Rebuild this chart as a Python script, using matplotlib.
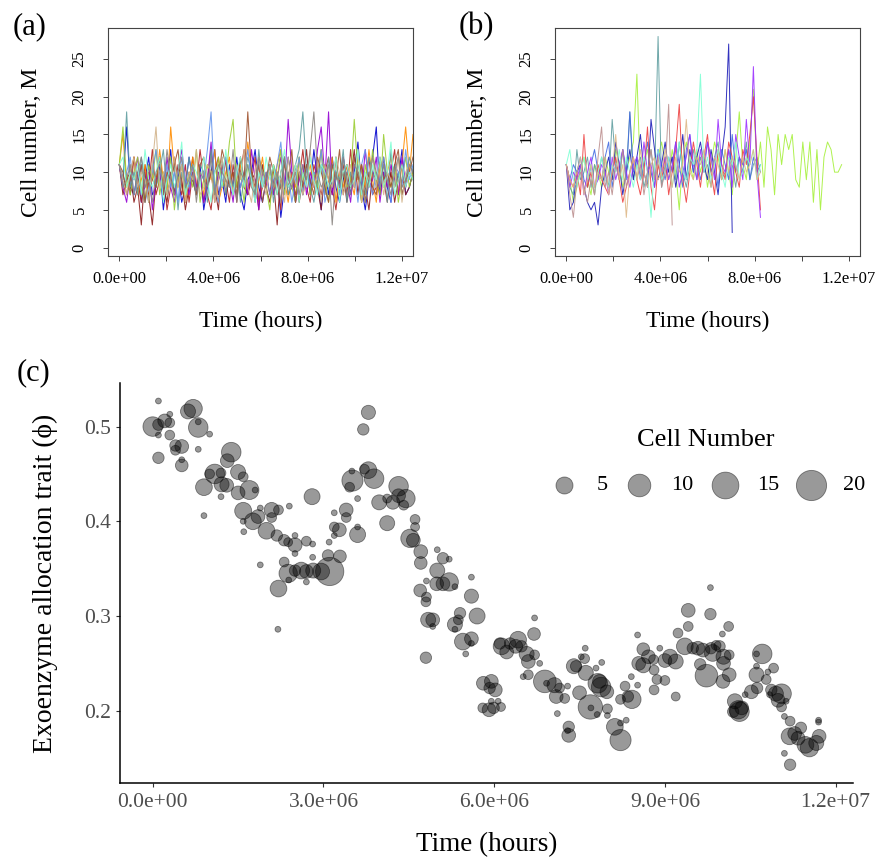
import numpy as np
import matplotlib
matplotlib.use("Agg")
import matplotlib.pyplot as plt

plt.rcParams['font.family'] = ['Liberation Serif', 'DejaVu Serif']

# ---------------- data: panel (a) ----------------
a_series = [
    [11,9,16,8,7,10,6,9,12,7, 8,11,5,9,13,7,10,6,8,12, 9,7,11,5,8,10,13,7,9,6, 11,8,12,7,5,9,10,13,8,6, 9,11,7,10,4,8,12,9,6,10, 7,11,8,13,9,5,10,7,12,8, 6,9,11,7,10,14,8,5,9,12, 16,7,10,8,6,11,9,13,7,8, 10],
    [11,8,10,7,12,9,6,11,8,13, 7,9,10,5,8,12,9,7,11,6, 10,8,13,9,7,5,10,12,8,9, 6,11,8,10,13,7,9,12,6,8, 10,7,11,9,5,12,8,10,7,9, 13,8,6,11,9,7,10,12,8,5, 9,11,7,13,8,10,6,9,12,7, 8,11,9,6,10,13,7,9,8,11, 10],
    [11,7,9,10,6,8,3,10,7,3, 9,12,8,6,10,7,11,9,5,8, 12,7,10,6,9,13,8,5,11,7, 9,10,6,12,8,7,10,9,5,11, 8,6,9,3,10,12,7,8,11,6, 9,13,7,10,8,5,11,9,7,12, 8,10,6,9,13,7,11,8,5,10, 9,7,12,8,10,6,9,11,7,8, 10],
    [11,15,8,10,12,7,9,11,6,10, 8,13,9,7,16,10,8,11,6,9, 12,8,10,7,11,9,13,6,8,10, 12,7,9,11,8,14,10,6,9,12, 8,10,7,11,13,9,6,10,8,12, 7,9,11,8,10,13,7,9,12,6, 10,8,11,9,7,12,10,8,13,9, 6,11,8,10,12,9,7,11,16,10, 15],
    [11,8,6,10,9,12,7,8,11,5, 9,10,7,12,8,6,10,13,9,7, 11,8,10,6,9,14,7,10,8,12, 9,6,11,8,10,7,13,9,5,10, 8,11,7,9,12,8,17,10,6,9, 11,7,10,8,13,16,9,18,7,10, 8,12,9,6,11,10,7,13,8,9, 12,6,10,8,11,9,7,12,8,10, 9],
    [11,16,9,7,10,12,8,6,11,9, 13,7,10,8,12,5,9,11,7,10, 8,13,6,9,11,10,7,12,8,9, 14,17,8,10,6,11,9,7,12,10, 8,5,11,9,13,7,10,8,6,12, 9,11,7,10,8,13,9,6,11,10, 7,12,8,9,17,10,6,11,8,13, 9,7,15,10,8,11,6,9,12,8, 10],
    [11,9,18,8,10,7,12,9,6,11, 8,10,13,7,9,11,5,10,8,12, 9,7,11,10,6,13,8,9,12,7, 10,8,11,6,9,12,10,7,13,8, 9,11,6,10,8,12,7,9,11,13, 18,10,8,6,9,11,7,12,8,10, 9,13,6,10,8,11,9,7,12,10, 8,9,11,6,13,8,10,7,9,12, 10],
    [11,8,10,12,7,9,11,6,8,10, 13,9,7,11,8,10,6,12,9,8, 11,7,10,9,13,18,8,6,10,12, 9,7,11,8,10,13,9,6,12,8, 10,7,9,11,14,8,10,6,9,12, 7,11,8,10,9,13,6,8,11,10, 7,12,9,8,10,6,11,13,9,7, 10,8,12,9,6,11,10,8,13,9, 11],
    [11,10,7,9,12,8,11,6,10,9, 8,12,7,10,9,11,13,8,6,10, 9,7,11,12,8,10,6,9,13,11, 8,10,7,12,9,18,10,8,11,6, 9,12,10,7,8,11,9,13,6,10, 8,11,9,7,12,10,8,6,11,9, 13,7,10,8,12,9,11,6,10,8, 7,12,9,10,8,11,13,7,9,10, 12],
    [11,9,7,10,12,8,10,9,6,11, 16,8,10,7,9,12,8,11,6,10, 9,13,7,8,11,10,6,9,12,8, 10,7,11,9,13,8,6,10,12,9, 7,11,8,10,9,6,12,8,11,10, 7,9,13,8,10,6,11,9,8,12, 10,7,9,11,8,13,6,10,9,12, 8,11,7,10,9,8,12,6,10,11, 9],
    [11,12,8,10,9,11,7,13,9,8, 10,12,6,9,11,8,10,14,7,9, 11,10,8,12,9,6,10,11,8,13, 9,7,10,12,8,11,9,6,10,8, 12,9,11,7,10,13,8,9,11,6, 10,8,12,9,7,11,10,8,9,12, 6,10,11,8,9,13,7,10,8,11, 9,12,8,10,14,7,9,11,8,10, 9],
    [11,8,9,11,7,10,12,8,9,6, 10,11,8,13,9,7,10,12,8,9, 11,6,10,9,8,12,7,11,10,9, 8,13,6,10,9,11,8,7,12,10, 9,11,8,10,6,12,9,8,10,7, 11,9,13,18,10,8,9,11,3,10, 8,12,9,7,11,10,8,6,9,12, 10,8,11,9,7,10,12,8,9,11, 10],
]
a_colors = ["#0000CD", "#B22222", "#8B1A1A", "#FF8C00", "#9400D3", "#9ACD32",
            "#5F9EA0", "#6495ED", "#A0522D", "#D2B48C", "#7FFFD4", "#8B8682"]
a_end_time = 12.48e6

# ---------------- data: panel (b) ----------------
b_step = 0.15e6
b_series = [
    [11,9,6,8,10,12,9,7,11,10, 8,12,10,9,13,11,8,10,12,14, 23,9,11,13,10,8,12,14,11,9,
     13,10,5,12,14,11,9,13,10,12, 8,11,14,12,9,13,10,7,12,18, 11,9,14,21,10,
     14,8,16,13,7,15,11,15,13,15,9,8,14,9,14,6,13,5,12,14,13,10,10,11],
    [11,8,7,13,9,10,12,8,11,9, 12,10,8,17,11,9,13,10,18,9, 11,12,8,10,13,9,28,8,11,10,
     12,9,14,10,8,11,13,9,12,10, 11,8,12,14,9,10,13,11,8,12, 10,14,9,11,12,10],
    [11,5,6,10,11,8,6,5,6,3, 8,10,12,9,14,11,7,10,13,9, 12,15,10,8,17,13,9,11,14,10,
     12,8,11,15,9,13,10,12,14,11, 9,13,10,7,12,16,27,2],
    [11,9,11,10,12,9,8,11,13,10, 9,12,14,8,11,10,13,9,18,10, 12,9,11,14,10,8,13,11,9,12,
     10,14,11,8,13,15,10,12,9,11, 14,10,12,8,13,11,9,15,10,12, 11,13,9,12,10,11],
    [11,9,8,10,7,15,8,10,7,11, 9,8,7,10,12,9,6,8,10,12, 9,7,10,16,8,5,11,9,12,7,
     10,13,19,9,6,10,14,11,8,12, 15,10,7,13,11,9,14,12,10,8, 13,11,15,20,12,5],
    [11,8,10,9,11,7,10,12,8,9, 11,10,7,12,9,11,13,10,8,11, 12,9,14,10,11,8,13,10,12,9,
     11,14,8,10,12,15,11,9,13,10, 14,12,9,17,11,10,13,8,15,12, 9,17,11,24,10,4],
    [11,13,9,8,10,12,9,11,7,10, 12,9,8,11,10,13,9,12,10,8, 11,9,12,10,4,11,13,9,10,12,
     8,11,14,10,9,12,11,13,23,10, 12,9,11,13,10,8,12,11,14,9, 10,12,11,13,9,11],
    [11,7,4,9,10,8,6,9,7,12, 16,8,10,7,11,9,13,8,10,12, 9,11,7,10,13,9,12,8,10,19,3],
    [11,9,8,10,12,7,9,11,8,10, 9,12,7,10,15,9,11,4,10,12, 9,13,10,8,11,12,9,10,13,11,
     8,12,10,11,17,10,9,12,11,13, 10,8,12,11,9,13,10,12,11,9, 12,10,11,13,9,10],
]
b_colors = ["#A6F03C", "#5F9EA0", "#1C1CB8", "#4169E1", "#EE4040", "#9B30FF",
            "#7FFFD4", "#BC8F8F", "#DEB887"]

xy_ticks = [0, 2e6, 4e6, 6e6, 8e6, 10e6, 12e6]
xy_ticklabels = ["0.0e+00", "", "4.0e+06", "", "8.0e+06", "", "1.2e+07"]
ab_yticks = [0, 5, 10, 15, 20, 25]

# ---------------- data: panel (c) ----------------
c_time_e6 = [
 0.10,0.00,0.10,0.21,0.30,0.30,0.10,0.30,0.10,0.40,0.51,0.40,0.51,0.51,0.62,0.71,0.80,0.80,1.00,0.80,
 1.38,1.31,1.09,1.00,1.20,1.50,1.59,0.90,1.21,1.30,1.50,1.70,1.80,1.20,0.90,1.59,1.89,1.85,2.09,2.21,
 2.09,1.76,2.00,1.59,1.60,2.18,2.31,2.38,2.50,2.40,2.50,2.70,2.50,1.89,2.31,2.38,2.50,2.61,2.21,2.39,
 2.20,2.70,
 2.80,2.81,2.81,2.70,2.82,2.96,3.11,3.08,3.29,3.10,3.19,3.19,3.28,3.19,3.40,3.40,3.60,3.60,3.79,3.70,
 3.51,3.46,3.60,3.50,3.72,3.79,3.89,3.98,4.12,4.22,4.32,4.32,4.45,4.41,4.12,4.61,4.61,4.52,4.58,4.71,
 4.71,5.00,5.10,5.21,5.00,4.81,4.99,5.10,5.21,5.31,4.70,4.81,4.80,5.60,5.60,5.70,4.84,4.92,4.92,5.40,
 5.31,5.37,5.31,5.45,5.60,5.60,5.50,4.80,5.81,5.92,5.80,5.91,5.95,
 5.95,6.02,5.99,6.12,6.07,6.71,6.70,6.13,6.10,6.22,6.28,6.42,6.38,6.48,6.57,6.60,6.71,6.80,6.51,6.60,
 6.89,7.06,6.92,7.15,7.09,7.24,7.29,7.11,7.31,7.31,7.29,7.40,7.44,7.59,7.60,7.53,7.61,7.50,7.69,7.70,
 7.81,7.79,7.89,7.82,7.88,7.85,7.98,7.99,7.99,8.12,8.22,8.22,8.32,8.30,8.22,8.41,8.42,8.35,8.52,8.52,
 8.62,8.54,8.71,8.80,8.62,8.91,8.81,8.86,9.00,8.81,9.00,9.09,9.19,9.19,9.23,
 9.41,9.41,9.80,9.80,10.12,10.01,9.35,9.49,9.58,9.67,9.81,9.90,9.96,9.84,10.03,10.13,9.62,9.73,10.03,10.13,
 10.02,10.23,10.29,10.31,10.20,10.35,10.41,10.52,10.62,10.61,10.71,10.61,10.61,10.81,10.91,10.78,10.87,10.95,11.05,10.84,
 10.99,11.13,11.05,11.10,11.20,11.19,11.28,11.39,11.34,11.47,11.54,11.66,11.71,11.70,11.70,11.10,11.20,
]
c_trait = [
 0.527,0.500,0.502,0.506,0.504,0.513,0.491,0.491,0.467,0.480,0.479,0.475,0.465,0.459,0.516,0.519,0.499,0.505,0.492,0.476,
 0.473,0.464,0.450,0.450,0.451,0.452,0.447,0.436,0.439,0.438,0.430,0.433,0.433,0.426,0.406,0.411,0.414,0.405,0.412,0.412,
 0.404,0.400,0.390,0.400,0.389,0.385,0.380,0.378,0.375,0.416,0.385,0.379,0.366,0.354,0.357,0.345,0.348,0.348,0.329,0.338,
 0.286,0.347,
 0.426,0.376,0.362,0.336,0.348,0.347,0.347,0.364,0.363,0.378,0.385,0.394,0.391,0.409,0.412,0.404,0.394,0.386,0.515,0.497,
 0.443,0.436,0.424,0.453,0.455,0.454,0.445,0.420,0.424,0.420,0.437,0.427,0.424,0.417,0.398,0.402,0.394,0.382,0.380,0.368,
 0.356,0.370,0.361,0.360,0.348,0.337,0.334,0.334,0.336,0.331,0.327,0.320,0.315,0.341,0.321,0.300,0.296,0.296,0.289,0.303,
 0.291,0.296,0.286,0.273,0.276,0.271,0.260,0.256,0.229,0.224,0.203,0.201,0.210,
 0.231,0.222,0.203,0.204,0.210,0.298,0.281,0.268,0.271,0.262,0.271,0.275,0.268,0.268,0.260,0.252,0.259,0.250,0.236,0.238,
 0.231,0.227,0.229,0.224,0.215,0.213,0.226,0.197,0.183,0.174,0.179,0.247,0.247,0.255,0.266,0.257,0.240,0.219,0.204,0.203,
 0.196,0.245,0.251,0.229,0.225,0.231,0.220,0.202,0.195,0.183,0.169,0.187,0.190,0.226,0.212,0.236,0.212,0.215,0.227,0.280,
 0.265,0.250,0.257,0.254,0.248,0.266,0.243,0.233,0.232,0.222,0.253,0.257,0.252,0.215,0.282,
 0.306,0.289,0.330,0.302,0.289,0.281,0.268,0.266,0.266,0.264,0.266,0.269,0.268,0.261,0.257,0.259,0.249,0.237,0.250,0.238,
 0.231,0.210,0.201,0.199,0.199,0.203,0.217,0.220,0.224,0.238,0.260,0.260,0.247,0.241,0.245,0.233,0.222,0.218,0.218,0.217,
 0.211,0.210,0.204,0.194,0.189,0.173,0.176,0.182,0.171,0.164,0.161,0.166,0.173,0.190,0.188,0.155,0.143,
]
c_cells = [
 1,7,2,3,1.5,1,1,1.5,2,2,3,1.5,1,2.5,3.7,6,7,1,1,1,
 7,3,7,1.5,1.5,3.7,1.5,4.8,3.7,3,3,6.5,1,1,1,5,1,3,3.7,1.5,
 1.5,4.8,4.8,1,1,2,2,1.3,3.2,1,1,1.5,1,1,1.5,6,2,4.8,4.8,1,
 1,3,
 4.3,1,1,1,3.7,4.8,17,2,2.5,1,1,1.5,3,1,3,1.5,1,4.3,3.2,2,
 8.5,1.5,1,1,1.5,4.8,7,3.7,1.3,3,7,3,6,1.5,3.7,1.5,1.3,6,3,3,
 2.5,1,2,1,3.7,1,3,3,6,1,2.5,1.5,1.5,1,3.2,4.3,3.7,3,1,2,
 3.7,1.5,1,4.8,3,1,1,2,3,2,1.5,3,1,
 3,3,2,1.3,1,1,2.5,4.8,2,3,2,4.8,3,2,3.7,3,1.5,1,1,1.5,
 10,3.7,1,1.5,3,1.5,1,1,2,3,1,3.7,2,1.5,1,1,3.7,3,12,1,
 1,1,1,7,7,3,3,1.5,1,4.8,8.5,1,1,1.5,1.5,1,6,2,1,1,
 2.5,3,3,1.5,3.7,1,1.5,1.5,1.5,1.5,3,3.7,3.7,1.3,1.5,
 3,1.5,1,2,1.5,1,4.8,2,3,3,2,1.5,2,4.8,3.7,1.5,2,10,3,3,
 3,3.7,6,7,2,3,1,3,2,3.7,7,1,1,1,1.5,1.5,2,3.7,7,1,
 3,1,1.5,1,1.5,4.8,3,2,3,4.8,6,3.7,3,1,1,1,2,
]
c_legend_values = [5, 10, 15, 20]
c_xticks = [0, 3e6, 6e6, 9e6, 12e6]
c_xticklabels = ["0.0e+00", "3.0e+06", "6.0e+06", "9.0e+06", "1.2e+07"]
c_yticks = [0.2, 0.3, 0.4, 0.5]
c_yticklabels = ["0.2", "0.3", "0.4", "0.5"]

# ---------------- figure ----------------
W, H = 877, 860
fig = plt.figure(figsize=(W / 100, H / 100), dpi=100)


def fbox(l, t, r, b):
    return [l / W, 1 - b / H, (r - l) / W, (b - t) / H]


def style_r_axes(ax):
    for s in ax.spines.values():
        s.set_color("#444444")
        s.set_linewidth(0.8)
    ax.set_xlim(-0.48e6, 12.48e6)
    ax.set_ylim(-1.12, 29.12)
    ax.set_xticks(xy_ticks)
    ax.set_xticklabels(xy_ticklabels)
    ax.set_yticks(ab_yticks)
    ax.set_yticklabels([str(v) for v in ab_yticks], rotation=90, va="center")
    ax.tick_params(axis="both", direction="out", length=3.6, width=0.7,
                   color="#444444", labelsize=12)
    ax.tick_params(axis="x", pad=7)
    ax.tick_params(axis="y", pad=11)
    ax.set_xlabel("Time (hours)", fontsize=17, va="center")
    ax.set_ylabel("Cell number, M", fontsize=17, va="center")
    ax.xaxis.set_label_coords(0.5, -0.285)
    ax.yaxis.set_label_coords(-0.25, 0.5)


# panel (a)
ax_a = fig.add_axes(fbox(108, 28, 413, 256))
for vals, col in zip(a_series, a_colors):
    t = np.linspace(0, a_end_time, len(vals))
    ax_a.plot(t, vals, color=col, lw=0.75, alpha=0.9)
style_r_axes(ax_a)
fig.text(12.7 / W, 1 - 27 / H, "(a)", fontsize=22, ha="left", va="center")

# panel (b)
ax_b = fig.add_axes(fbox(555, 28, 860, 256))
for vals, col in zip(b_series, b_colors):
    t = b_step * np.arange(len(vals))
    ax_b.plot(t, vals, color=col, lw=0.7, alpha=0.9)
style_r_axes(ax_b)
ax_b.yaxis.set_label_coords(-0.2525, 0.5)
fig.text(458.3 / W, 1 - 27 / H, "(b)", fontsize=22, ha="left", va="center")


# panel (c)
def bubble_area(v):
    v = np.asarray(v, dtype=float)
    d_px = 5.82 * (1 + 5 * np.sqrt((v - 1) / 27.0))
    return (d_px * 0.72) ** 2


ax_c = fig.add_axes(fbox(120, 383, 852.7, 783.3))
ax_c.scatter(np.array(c_time_e6) * 1e6, c_trait, s=bubble_area(c_cells),
             facecolors=(0, 0, 0, 0.4), edgecolors=(0, 0, 0, 0.45), linewidths=0.6,
             zorder=3)
ax_c.set_xlim(-0.575e6, 12.30e6)
ax_c.set_ylim(0.1234, 0.546)
for side in ("top", "right"):
    ax_c.spines[side].set_visible(False)
for side in ("left", "bottom"):
    ax_c.spines[side].set_color("black")
    ax_c.spines[side].set_linewidth(1.1)
ax_c.set_xticks(c_xticks)
ax_c.set_xticklabels(c_xticklabels)
ax_c.set_yticks(c_yticks)
ax_c.set_yticklabels(c_yticklabels)
ax_c.tick_params(axis="both", direction="out", length=2.9, width=0.8, color="#333333",
                 labelsize=15.5, labelcolor="#4D4D4D")
ax_c.tick_params(axis="x", pad=4)
ax_c.tick_params(axis="y", pad=3.5)
ax_c.set_xlabel("Time (hours)", fontsize=19.5, va="center")
ax_c.set_ylabel("Exoenzyme allocation trait (ϕ)", fontsize=20, va="center")
ax_c.xaxis.set_label_coords(0.5, -0.154)
ax_c.yaxis.set_label_coords(-0.1024, 0.5)
fig.text(16.7 / W, 1 - 373 / H, "(c)", fontsize=22, ha="left", va="center")

handles = [ax_c.scatter([], [], s=bubble_area([v])[0], facecolors=(0, 0, 0, 0.4),
                        edgecolors=(0, 0, 0, 0.45), linewidths=0.6) for v in c_legend_values]
leg = ax_c.legend(handles, [str(v) for v in c_legend_values], ncol=4, frameon=False,
                  title="Cell Number", title_fontsize=19, fontsize=16,
                  handlelength=1.6, handletextpad=0.64, columnspacing=0.63,
                  labelspacing=1.1, scatterpoints=1, borderpad=0.2,
                  loc="center", bbox_to_anchor=(706 / W, 1 - 462 / H),
                  bbox_transform=fig.transFigure)

fig.savefig("out.png", dpi=100)
